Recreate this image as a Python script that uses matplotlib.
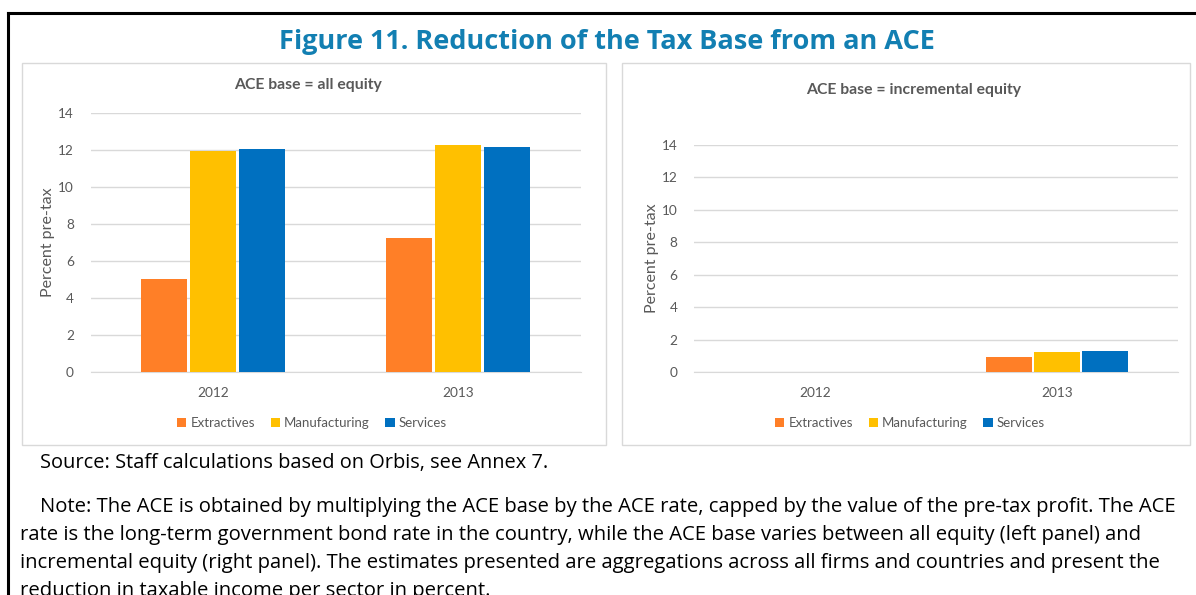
import matplotlib.pyplot as plt
import numpy as np
from matplotlib.patches import Rectangle
from matplotlib.lines import Line2D

# data
years = ["2012", "2013"]
sectors = ["Extractives", "Manufacturing", "Services"]
all_equity = {
    "Extractives": [5.05, 7.25],
    "Manufacturing": [11.97, 12.25],
    "Services": [12.05, 12.16],
}
incr_equity = {
    "Extractives": [0.0, 0.93],
    "Manufacturing": [0.0, 1.23],
    "Services": [0.0, 1.32],
}
colors = ["#FF7F27", "#FFC000", "#0070C0"]
yticks = [0, 2, 4, 6, 8, 10, 12, 14]

W, H = 1196, 595
TXT = "#595959"
GRID = "#D9D9D9"
chart_font = ["Lato", "DejaVu Sans"]
page_font = ["Open Sans", "DejaVu Sans"]

fig = plt.figure(figsize=(W / 100, H / 100), dpi=100)


def fx(px):
    return px / W


def fy(py):
    return 1 - py / H


# black page border (top and left)
fig.add_artist(Line2D([fx(8), 1], [fy(13), fy(13)], color="black", lw=2.2))
fig.add_artist(Line2D([fx(8), fx(8)], [fy(13), 0], color="black", lw=2.2))

fig.text(fx(607), fy(42), "Figure 11. Reduction of the Tax Base from an ACE",
         ha="center", va="center", fontsize=19.5, fontweight="bold",
         color="#127FB2", family=page_font)

# chart boxes
for x0, x1 in [(22, 606), (622, 1190)]:
    fig.add_artist(Rectangle((fx(x0), fy(445)), fx(x1 - x0), (445 - 63) / H,
                             fill=False, edgecolor=GRID, lw=1.0))


def draw_panel(rect, data, title, title_xy, ylab_x, box_cx):
    ax = fig.add_axes(rect)
    x = np.arange(len(years))
    for i, s in enumerate(sectors):
        ax.bar(x + (i - 1) * 0.2, data[s], width=0.19, color=colors[i],
               label=s, zorder=3)
    ax.set_xlim(-0.5, 1.5)
    ax.set_ylim(0, 14)
    ax.set_yticks(yticks)
    ax.set_xticks(x)
    ax.set_xticklabels(years)
    ax.grid(axis="y", color=GRID, lw=1.0, zorder=0)
    for sp in ["top", "right", "left"]:
        ax.spines[sp].set_visible(False)
    ax.spines["bottom"].set_color(GRID)
    ax.tick_params(length=0, colors=TXT, labelsize=9.8)
    ax.tick_params(axis="x", pad=11)
    ax.tick_params(axis="y", pad=12)
    for lab in ax.get_xticklabels() + ax.get_yticklabels():
        lab.set_family(chart_font)
    fig.text(fx(ylab_x), rect[1] + rect[3] / 2, "Percent pre-tax", rotation=90,
             ha="center", va="center", fontsize=11.5, color=TXT, family=chart_font)
    fig.text(fx(title_xy[0]), fy(title_xy[1]), title, ha="center", va="center",
             fontsize=11.3, fontweight="bold", color=TXT, family=chart_font)
    fig.legend(*ax.get_legend_handles_labels(), loc="center",
               bbox_to_anchor=(fx(box_cx), fy(423)), ncol=3, frameon=False,
               handlelength=0.7, handleheight=0.7, handletextpad=0.3,
               columnspacing=1.2, prop={"family": chart_font, "size": 9.5},
               labelcolor=TXT)
    return ax


draw_panel([fx(90.5), fy(372), fx(490), (372 - 113) / H], all_equity,
           "ACE base = all equity", (308, 85), 48, 312)
draw_panel([fx(694), fy(372), fx(484), (372 - 145) / H], incr_equity,
           "ACE base = incremental equity", (914, 90), 652, 910)

fig.text(fx(40), fy(463), "Source: Staff calculations based on Orbis, see Annex 7.",
         ha="left", va="center", fontsize=14.4, color="black", family=page_font)

note = [
    (40, "Note: The ACE is obtained by multiplying the ACE base by the ACE rate, capped by the value of the pre-tax profit. The ACE"),
    (20, "rate is the long-term government bond rate in the country, while the ACE base varies between all equity (left panel) and"),
    (20, "incremental equity (right panel). The estimates presented are aggregations across all firms and countries and present the"),
    (20, "reduction in taxable income per sector in percent."),
]
for i, (x0, line) in enumerate(note):
    fig.text(fx(x0), fy(507 + 28 * i), line, ha="left", va="center",
             fontsize=14.6, color="black", family=page_font)

fig.savefig("out.png", dpi=100)
